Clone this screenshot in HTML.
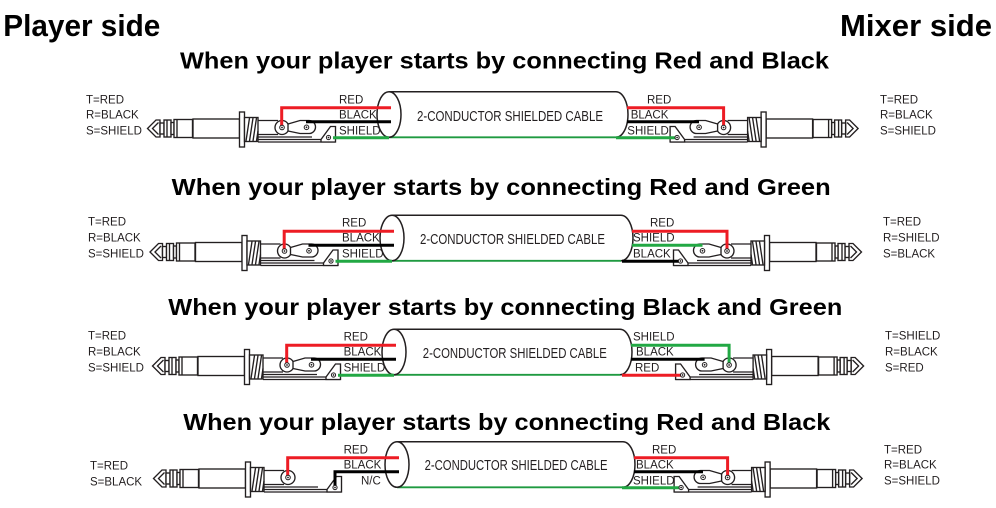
<!DOCTYPE html>
<html>
<head>
<meta charset="utf-8">
<style>
  html,body{margin:0;padding:0;background:#fff;}
  svg{display:block;}
  .h{font-family:"Liberation Sans",sans-serif;font-weight:bold;fill:#000;}
  .l{font-family:"Liberation Sans",sans-serif;font-size:11.5px;fill:#231f20;}
  .c{font-family:"Liberation Sans",sans-serif;font-size:14.5px;fill:#231f20;}
  .p{fill:#fff;stroke:#231f20;stroke-width:1.35;}
  .pl{fill:none;stroke:#231f20;stroke-width:1.35;}
  .r{fill:none;stroke:#ed1c24;stroke-width:3;}
  .k{fill:none;stroke:#000;stroke-width:3;}
  .g{fill:none;stroke:#22a844;stroke-width:3;}
  .cb{fill:#fff;stroke:#231f20;stroke-width:1.5;}
  .cg{fill:none;stroke:#1f9a40;stroke-width:1.8;}
</style>
</head>
<body>
<svg width="996" height="508" viewBox="0 0 996 508" xmlns="http://www.w3.org/2000/svg">
<defs>
  <g id="plugbase">
    <path class="p" d="M160,120 L156,120 L147.5,128.5 L156,137 L160,137 Z"/>
    <path class="pl" d="M158.5,122.5 L152.5,128.5 L158.5,134.5"/>
    <rect class="p" x="160" y="123" width="4" height="11"/>
    <rect class="p" x="164" y="120" width="7" height="17"/>
    <line class="pl" x1="167" y1="120" x2="167" y2="137"/>
    <rect class="p" x="171" y="122.5" width="3" height="12"/>
    <rect class="p" x="174" y="119.5" width="18.5" height="18"/>
    <line class="pl" x1="177" y1="119.5" x2="177" y2="137.5"/>
    <rect class="p" x="193" y="119" width="46.5" height="19"/>
    <rect class="p" x="239.5" y="112" width="5" height="35"/>
    <rect class="p" x="244.5" y="117.5" width="13.5" height="24"/>
    <path class="pl" d="M246,141 L249.5,118 M249.5,141 L253,118 M253,141 L256.5,118 M256.5,141 L258,131"/>
    <path class="pl" d="M258,120.5 H278 M258,134.5 H278 M258,137 H312 M258,139.5 H321 M258,142 H335.5"/>
    <rect class="p" x="275" y="120.5" width="14" height="14" rx="7"/>
    <path class="p" d="M321,139.5 L330.5,126.5 H335.5 V142 H321 Z"/>
  </g>
  <g id="trs">
    <use href="#plugbase"/>
    <path class="p" d="M288,124 L300,120.5 H309 A6.5,6.5 0 0 1 309,133.5 H300 L288,131 Z"/>
  </g>
  <g id="trsdots">
    <circle cx="282" cy="127.5" r="2.3" fill="#fff" stroke="#231f20" stroke-width="1"/>
    <circle cx="282" cy="127.5" r="0.9" fill="#231f20"/>
    <circle cx="306.5" cy="127.3" r="2.3" fill="#fff" stroke="#231f20" stroke-width="1"/>
    <circle cx="306.5" cy="127.3" r="0.9" fill="#231f20"/>
    <circle cx="328.5" cy="137.5" r="2.1" fill="#fff" stroke="#231f20" stroke-width="1"/>
    <circle cx="328.5" cy="137.5" r="0.9" fill="#231f20"/>
  </g>
  <g id="tsdots">
    <circle cx="282" cy="127.5" r="2.3" fill="#fff" stroke="#231f20" stroke-width="1"/>
    <circle cx="282" cy="127.5" r="0.9" fill="#231f20"/>
    <circle cx="329" cy="137.5" r="2.1" fill="#fff" stroke="#231f20" stroke-width="1"/>
    <circle cx="329" cy="137.5" r="0.9" fill="#231f20"/>
  </g>
</defs>

<text class="h" x="3.3" y="36" font-size="31" textLength="157" lengthAdjust="spacingAndGlyphs">Player side</text>
<text class="h" x="840" y="36" font-size="31" textLength="152" lengthAdjust="spacingAndGlyphs">Mixer side</text>

<text class="h" x="180" y="68.3" font-size="23" textLength="649" lengthAdjust="spacingAndGlyphs">When your player starts by connecting Red and Black</text>
<text class="h" x="171.7" y="195" font-size="23" textLength="659" lengthAdjust="spacingAndGlyphs">When your player starts by connecting Red and Green</text>
<text class="h" x="168.3" y="315" font-size="23" textLength="674" lengthAdjust="spacingAndGlyphs">When your player starts by connecting Black and Green</text>
<text class="h" x="183.3" y="430" font-size="23" textLength="647" lengthAdjust="spacingAndGlyphs">When your player starts by connecting Red and Black</text>

<!-- ROW 1 -->
<use href="#trs"/>
<use href="#trs" transform="translate(1005.6,0) scale(-1,1)"/>
<path class="cb" d="M389,91.7 H616 A12,22.8 0 0 1 616,137.3 H389"/>
<path class="cg" d="M389,137.3 H616"/>
<ellipse class="cb" cx="389" cy="114.5" rx="12" ry="22.8"/>
<path class="r" d="M281.7,127.5 V107.7 H391"/>
<path class="k" d="M306,121.7 H391"/>
<path class="g" d="M333,137.7 H389"/>
<path class="r" d="M627,107.7 H723.6 V127.5"/>
<path class="k" d="M627,121.7 H699"/>
<path class="g" d="M616,137.7 H677"/>
<use href="#trsdots"/>
<use href="#trsdots" transform="translate(1005.6,0) scale(-1,1)"/>
<text class="c" x="417" y="121" textLength="186" lengthAdjust="spacingAndGlyphs">2-CONDUCTOR SHIELDED CABLE</text>
<text class="l" x="86" y="103.3">T=RED</text>
<text class="l" x="86" y="118.3">R=BLACK</text>
<text class="l" x="86" y="134.3">S=SHIELD</text>
<text class="l" x="339" y="103.3">RED</text>
<text class="l" x="339" y="118.3">BLACK</text>
<text class="l" x="339" y="134.3">SHIELD</text>
<text class="l" x="647" y="103.3">RED</text>
<text class="l" x="630.7" y="118.3">BLACK</text>
<text class="l" x="627.3" y="134.3">SHIELD</text>
<text class="l" x="880" y="103.3">T=RED</text>
<text class="l" x="880" y="118.3">R=BLACK</text>
<text class="l" x="880" y="134.3">S=SHIELD</text>

<!-- ROW 2 -->
<use href="#trs" transform="translate(2.5,123.5)"/>
<use href="#trs" transform="translate(1009,123.5) scale(-1,1)"/>
<path class="cb" d="M392,215.2 H621 A12,22.8 0 0 1 621,260.8 H392"/>
<path class="cg" d="M392,260.8 H621"/>
<ellipse class="cb" cx="392" cy="238" rx="12" ry="22.8"/>
<path class="r" d="M284.2,251 V231.2 H394"/>
<path class="k" d="M308.5,245.2 H394"/>
<path class="g" d="M335.5,261.2 H392"/>
<path class="r" d="M632,231.2 H727 V251"/>
<path class="g" d="M632,245.2 H702.5"/>
<path class="k" d="M622,261.2 H680.5"/>
<use href="#trsdots" transform="translate(2.5,123.5)"/>
<use href="#trsdots" transform="translate(1009,123.5) scale(-1,1)"/>
<text class="c" x="420" y="244" textLength="185" lengthAdjust="spacingAndGlyphs">2-CONDUCTOR SHIELDED CABLE</text>
<text class="l" x="88" y="225.5">T=RED</text>
<text class="l" x="88" y="241.3">R=BLACK</text>
<text class="l" x="88" y="257.3">S=SHIELD</text>
<text class="l" x="342" y="226.3">RED</text>
<text class="l" x="342" y="241.3">BLACK</text>
<text class="l" x="342" y="257.3">SHIELD</text>
<text class="l" x="650" y="226.3">RED</text>
<text class="l" x="633" y="241.3">SHIELD</text>
<text class="l" x="633" y="257.3">BLACK</text>
<text class="l" x="883" y="225.5">T=RED</text>
<text class="l" x="883" y="241.3">R=SHIELD</text>
<text class="l" x="883" y="257.3">S=BLACK</text>

<!-- ROW 3 -->
<use href="#trs" transform="translate(5,237.5)"/>
<use href="#trs" transform="translate(1011.1,237.5) scale(-1,1)"/>
<path class="cb" d="M394,329.2 H620 A12,22.8 0 0 1 620,374.8 H394"/>
<path class="cg" d="M394,374.8 H620"/>
<ellipse class="cb" cx="394" cy="352" rx="12" ry="22.8"/>
<path class="r" d="M286.7,365 V345.2 H396"/>
<path class="k" d="M311,359.2 H396"/>
<path class="g" d="M338,375.2 H394"/>
<path class="g" d="M631,345.2 H729.1 V365"/>
<path class="k" d="M631,359.2 H704.6"/>
<path class="r" d="M622,375.2 H682.6"/>
<use href="#trsdots" transform="translate(5,237.5)"/>
<use href="#trsdots" transform="translate(1011.1,237.5) scale(-1,1)"/>
<text class="c" x="422.8" y="358" textLength="184" lengthAdjust="spacingAndGlyphs">2-CONDUCTOR SHIELDED CABLE</text>
<text class="l" x="88" y="339.3">T=RED</text>
<text class="l" x="88" y="355.3">R=BLACK</text>
<text class="l" x="88" y="371.3">S=SHIELD</text>
<text class="l" x="343.6" y="340.3">RED</text>
<text class="l" x="343.6" y="355.3">BLACK</text>
<text class="l" x="343.6" y="371.3">SHIELD</text>
<text class="l" x="633" y="340.3">SHIELD</text>
<text class="l" x="636" y="355.3">BLACK</text>
<text class="l" x="635" y="371.3">RED</text>
<text class="l" x="885" y="339.3">T=SHIELD</text>
<text class="l" x="885" y="355.3">R=BLACK</text>
<text class="l" x="885" y="371.3">S=RED</text>

<!-- ROW 4 -->
<use href="#plugbase" transform="translate(6,350)"/>
<use href="#trs" transform="translate(1009.6,350) scale(-1,1)"/>
<path class="cb" d="M397,441.7 H623 A12,22.8 0 0 1 623,487.3 H397"/>
<path class="cg" d="M397,487.3 H623"/>
<ellipse class="cb" cx="397" cy="464.5" rx="12" ry="22.8"/>
<path class="r" d="M287.7,477.5 V457.7 H399"/>
<path class="k" d="M335,488 V471.7 H399"/>
<path class="r" d="M634,457.7 H727.6 V477.5"/>
<path class="k" d="M634,471.7 H703"/>
<path class="g" d="M622,487.7 H681"/>
<use href="#tsdots" transform="translate(6,350)"/>
<use href="#trsdots" transform="translate(1009.6,350) scale(-1,1)"/>
<text class="c" x="424.6" y="470" textLength="183" lengthAdjust="spacingAndGlyphs">2-CONDUCTOR SHIELDED CABLE</text>
<text class="l" x="90" y="469.3">T=RED</text>
<text class="l" x="90" y="485.3">S=BLACK</text>
<text class="l" x="343.6" y="453.3">RED</text>
<text class="l" x="343.6" y="468.3">BLACK</text>
<text class="l" x="361" y="484.3">N/C</text>
<text class="l" x="652" y="453.3">RED</text>
<text class="l" x="636" y="468.3">BLACK</text>
<text class="l" x="633" y="484.3">SHIELD</text>
<text class="l" x="884" y="453.3">T=RED</text>
<text class="l" x="884" y="468.3">R=BLACK</text>
<text class="l" x="884" y="484.3">S=SHIELD</text>
</svg>
</body>
</html>
